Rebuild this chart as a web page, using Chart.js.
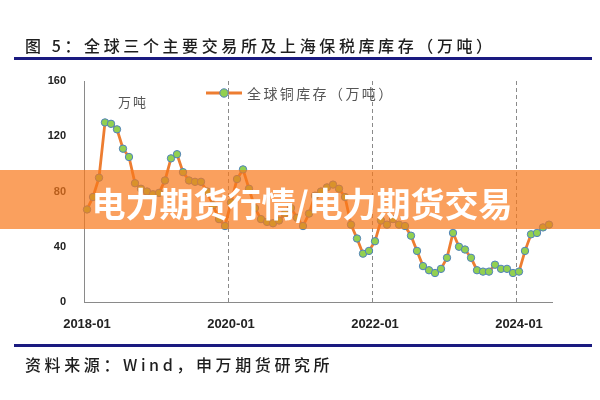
<!DOCTYPE html>
<html>
<head>
<meta charset="utf-8">
<script src="https://cdn.jsdelivr.net/npm/chart.js@4"></script>
<style>
html,body{margin:0;padding:0;background:#fff;}
#wrap{width:600px;height:400px;position:relative;}
</style>
</head>
<body>
<div id="wrap"><canvas id="c" width="600" height="400"></canvas></div>
<script>
// ---- data ----
const titleText = '图 5：全球三个主要交易所及上海保税库库存（万吨）';
const sourceText = '资料来源：Wind，申万期货研究所';
const seriesName = '全球铜库存（万吨）';
const unitText = '万吨';
const bannerText = '电力期货行情/电力期货交易';
const firstMonth = '2018-01';
const lastMonth = '2024-06';
const tickLabels = ['2018-01', '2020-01', '2022-01', '2024-01'];
const dashedLabels = ['2020-01', '2022-01', '2024-01'];
const yTicks = [0, 40, 80, 120, 160];
const stock = [
  67, 76, 90, 130, 129, 125, 111, 105, 86, 82, 80, 78,
  79, 88, 104, 107, 94, 88, 87, 87, 80, 70, 60, 55,
  72, 89, 96, 82, 68, 60, 58, 57, 59, 64, 68, 61,
  55, 64, 77, 80, 83, 85, 82, 76, 56, 46, 35, 37,
  44, 59, 56, 60, 56, 55, 48, 37, 26, 23, 21, 24,
  32, 50, 40, 38, 32, 23, 22, 22, 27, 24, 24, 21,
  22, 37, 49, 50, 54, 56
];

// month categories
const months = [];
(function(){
  let [y, m] = firstMonth.split('-').map(Number);
  while (true) {
    const s = y + '-' + String(m).padStart(2, '0');
    months.push(s);
    if (s === lastMonth) break;
    m++; if (m > 12) { m = 1; y++; }
  }
})();

const LINE = '#ED7D31';
const MFILL = '#92D050';
const MBORDER = '#4F81BD';
const CJK = '"Noto Sans CJK SC", "Noto Sans", sans-serif';

const decor = {
  id: 'decor',
  afterDraw(chart) {
    const ctx = chart.ctx;
    ctx.save();
    // title
    ctx.fillStyle = '#1e1e1e';
    ctx.font = '500 16px ' + CJK;
    ctx.textBaseline = 'middle';
    ctx.textAlign = 'left';
    try { ctx.letterSpacing = '3.6px'; } catch(e) {}
    ctx.fillText(titleText, 25, 46);
    // source
    ctx.fillText(sourceText, 25, 365);
    try { ctx.letterSpacing = '0px'; } catch(e) {}
    // blue rules
    ctx.fillStyle = '#1a1a80';
    ctx.fillRect(14, 57, 578, 3);
    ctx.fillRect(14, 344, 578, 3);

    // unit label
    ctx.fillStyle = '#555';
    ctx.font = '13px ' + CJK;
    try { ctx.letterSpacing = '2px'; } catch(e) {}
    ctx.fillText(unitText, 118, 102);

    // legend
    const ds = chart.data.datasets[0];
    ctx.strokeStyle = ds.borderColor;
    ctx.lineWidth = ds.borderWidth;
    ctx.beginPath();
    ctx.moveTo(206, 93); ctx.lineTo(242, 93);
    ctx.stroke();
    ctx.beginPath();
    ctx.arc(224, 93, ds.pointRadius + 0.5, 0, Math.PI * 2);
    ctx.fillStyle = ds.pointBackgroundColor;
    ctx.fill();
    ctx.lineWidth = ds.pointBorderWidth;
    ctx.strokeStyle = ds.pointBorderColor;
    ctx.stroke();
    ctx.fillStyle = '#555';
    ctx.font = '14px ' + CJK;
    try { ctx.letterSpacing = '2.4px'; } catch(e) {}
    ctx.fillText(seriesName, 247, 94);
    try { ctx.letterSpacing = '0px'; } catch(e) {}

    // banner overlay
    ctx.fillStyle = 'rgba(248,119,26,0.7)';
    ctx.fillRect(0, 170, 600, 59);
    ctx.fillStyle = '#ffffff';
    ctx.font = 'bold 34px ' + CJK;
    ctx.textAlign = 'center';
    ctx.textBaseline = 'middle';
    ctx.fillText(bannerText, 302, 204);
    ctx.restore();
  }
};

new Chart(document.getElementById('c'), {
  type: 'line',
  data: {
    labels: months,
    datasets: [{
      label: seriesName,
      data: stock,
      borderColor: LINE,
      borderWidth: 2.8,
      pointRadius: 3.7,
      pointBackgroundColor: MFILL,
      pointBorderColor: MBORDER,
      pointBorderWidth: 1,
      tension: 0,
      fill: false
    }]
  },
  options: {
    responsive: false,
    animation: false,
    layout: { padding: { top: 81, right: 48, left: 0, bottom: 0 } },
    plugins: { legend: { display: false }, tooltip: { enabled: false } },
    scales: {
      x: {
        type: 'category',
        offset: true,
        grid: {
          offset: true,
          drawTicks: false,
          lineWidth: 1,
          color: (c) => (c.index !== undefined && dashedLabels.includes(months[c.index])) ? '#8a8a8a' : 'rgba(0,0,0,0)'
        },
        border: { color: '#8a8a8a', width: 1, dash: [4, 3] },
        ticks: {
          autoSkip: false,
          maxRotation: 0,
          minRotation: 0,
          padding: 15,
          color: '#222',
          font: { family: '"Liberation Sans", Arial, sans-serif', size: 13, weight: 'bold' },
          callback: (v, i) => tickLabels.includes(months[i]) ? months[i] : ''
        },
        afterFit: (s) => { s.height = 98; }
      },
      y: {
        min: 0,
        max: 160,
        afterBuildTicks: (s) => { s.ticks = yTicks.map(v => ({ value: v })); },
        grid: { display: false, drawTicks: false },
        border: { color: '#8a8a8a', width: 1 },
        ticks: {
          padding: 18,
          color: '#222',
          font: { family: '"Liberation Sans", Arial, sans-serif', size: 11, weight: 'bold' }
        },
        afterFit: (s) => { s.width = 84; }
      }
    }
  },
  plugins: [decor]
});
</script>
</body>
</html>
